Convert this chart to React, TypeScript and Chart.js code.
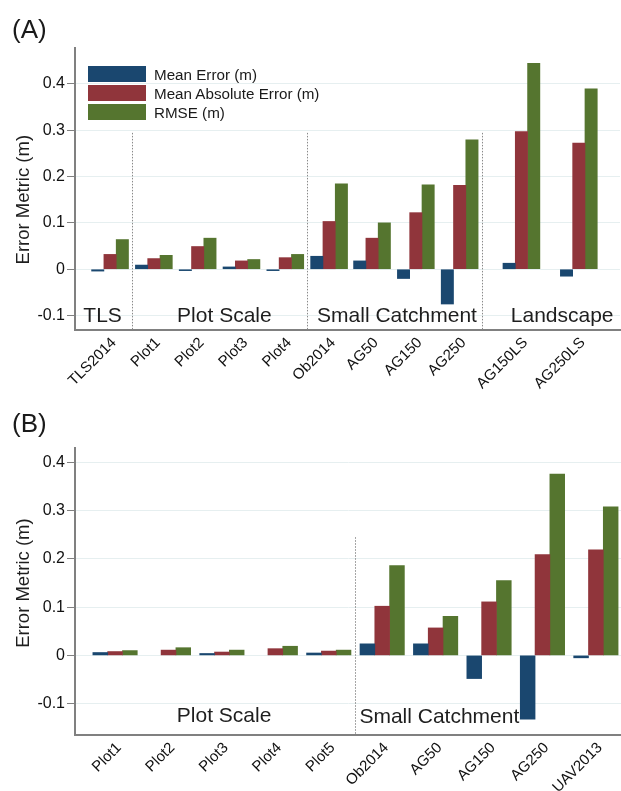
import React, { useEffect, useRef } from 'react';
import { Chart, registerables } from 'chart.js';

Chart.register(...registerables);

const FONT = '"Liberation Sans", Arial, Helvetica, sans-serif';

// ---------- data ----------
const seriesNames = ['Mean Error (m)', 'Mean Absolute Error (m)', 'RMSE (m)'];
const seriesColors = ['#1a476f', '#90353b', '#55752f'];

const labelsA = ['TLS2014', 'Plot1', 'Plot2', 'Plot3', 'Plot4', 'Ob2014', 'AG50', 'AG150', 'AG250', 'AG150LS', 'AG250LS'];
const meanErrorA = [-0.004, 0.009, -0.003, 0.005, -0.003, 0.028, 0.018, -0.02, -0.075, 0.013, -0.015];
const meanAbsErrorA = [0.032, 0.023, 0.049, 0.018, 0.025, 0.103, 0.067, 0.122, 0.181, 0.297, 0.272];
const rmseA = [0.064, 0.03, 0.067, 0.021, 0.032, 0.184, 0.1, 0.182, 0.279, 0.444, 0.389];
const groupNamesA = ['TLS', 'Plot Scale', 'Small Catchment', 'Landscape'];

const labelsB = ['Plot1', 'Plot2', 'Plot3', 'Plot4', 'Plot5', 'Ob2014', 'AG50', 'AG150', 'AG250', 'UAV2013'];
const meanErrorB: (number | null)[] = [0.006, null, 0.004, null, 0.005, 0.024, 0.024, -0.048, -0.132, -0.005];
const meanAbsErrorB = [0.008, 0.011, 0.007, 0.014, 0.009, 0.102, 0.057, 0.111, 0.209, 0.219];
const rmseB = [0.01, 0.016, 0.011, 0.019, 0.011, 0.186, 0.081, 0.155, 0.376, 0.308];
const groupNamesB = ['Plot Scale', 'Small Catchment'];

const yTickValues = [-0.1, 0, 0.1, 0.2, 0.3, 0.4];
const yTickLabels = ['-0.1', '0', '0.1', '0.2', '0.3', '0.4'];
const yTitle = 'Error Metric (m)';

// ---------- layout (category slots on the x axis, in axis units) ----------
const slotsA = [0.8, 1.8, 2.8, 3.8, 4.8, 5.8, 6.78, 7.78, 8.78, 10.19, 11.5];
const slotsB = [0.75, 1.75, 2.75, 3.75, 4.75, 5.75, 6.75, 7.75, 8.75, 9.75];

type Panel = {
  labels: string[];
  series: (number | null)[][];
  slots: number[];
  xMax: number;
  yMin: number;
  yMax: number;
  barThickness: number;
  separators: number[];
  sepTop: number;
  groups: { text: string; x: number; y: number }[];
  top: number;
  height: number;
  padTop: number;
  padRight: number;
  xAxisH: number;
};

const panelA: Panel = {
  labels: labelsA,
  series: [meanErrorA, meanAbsErrorA, rmseA],
  slots: slotsA,
  xMax: 12.44,
  yMin: -0.131,
  yMax: 0.477,
  barThickness: 12.3,
  separators: [1.3, 5.3, 9.29],
  sepTop: 0.294,
  groups: [
    { text: groupNamesA[0], x: 0.63, y: -0.102 },
    { text: groupNamesA[1], x: 3.41, y: -0.102 },
    { text: groupNamesA[2], x: 7.35, y: -0.102 },
    { text: groupNamesA[3], x: 11.12, y: -0.102 },
  ],
  top: 0,
  height: 400,
  padTop: 48,
  padRight: 1,
  xAxisH: 70,
};

const panelB: Panel = {
  labels: labelsB,
  series: [meanErrorB, meanAbsErrorB, rmseB],
  slots: slotsB,
  xMax: 10.22,
  yMin: -0.165,
  yMax: 0.43,
  barThickness: 14.8,
  separators: [5.25],
  sepTop: 0.245,
  groups: [
    { text: groupNamesB[0], x: 2.79, y: -0.126 },
    { text: groupNamesB[1], x: 6.82, y: -0.129 },
  ],
  top: 400,
  height: 391,
  padTop: 48,
  padRight: 0,
  xAxisH: 56,
};

const makeOverlay = (cfg: Panel) => ({
  id: 'overlay',
  beforeDatasetsDraw(chart: any) {
    const { ctx, chartArea } = chart;
    const x = chart.scales.x;
    const y = chart.scales.y;
    ctx.save();
    // group separators
    ctx.strokeStyle = '#8a8a8a';
    ctx.lineWidth = 1;
    ctx.setLineDash([1.5, 1.5]);
    cfg.separators.forEach((s) => {
      const px = Math.round(x.getPixelForValue(s)) + 0.5;
      ctx.beginPath();
      ctx.moveTo(px, y.getPixelForValue(cfg.sepTop));
      ctx.lineTo(px, chartArea.bottom);
      ctx.stroke();
    });
    ctx.setLineDash([]);
    // group labels
    ctx.fillStyle = '#1e1e1e';
    ctx.font = `21px ${FONT}`;
    ctx.textAlign = 'center';
    ctx.textBaseline = 'middle';
    cfg.groups.forEach((g) => {
      ctx.fillText(g.text, x.getPixelForValue(g.x), y.getPixelForValue(g.y));
    });
    ctx.restore();
  },
  afterDraw(chart: any) {
    const { ctx } = chart;
    const y = chart.scales.y;
    ctx.save();
    ctx.fillStyle = '#1e1e1e';
    ctx.font = `18.5px ${FONT}`;
    ctx.textAlign = 'center';
    ctx.textBaseline = 'middle';
    ctx.translate(24, y.getPixelForValue(0.15));
    ctx.rotate(-Math.PI / 2);
    ctx.fillText(yTitle, 0, 0);
    ctx.restore();
  },
});

function PanelChart({ cfg }: { cfg: Panel }) {
  const ref = useRef<HTMLCanvasElement>(null);
  useEffect(() => {
    const chart = new Chart(ref.current as HTMLCanvasElement, {
      type: 'bar',
      data: {
        datasets: cfg.series.map((vals, si) => ({
          label: seriesNames[si],
          data: vals.map((v, i) => ({ x: cfg.slots[i], y: v })),
          backgroundColor: seriesColors[si],
          borderWidth: 0,
          barThickness: cfg.barThickness,
          grouped: true,
        })),
      },
      options: {
        animation: false,
        responsive: false,
        devicePixelRatio: 1,
        layout: { padding: { top: cfg.padTop, right: cfg.padRight, left: 0, bottom: 0 } },
        plugins: { legend: { display: false }, tooltip: { enabled: false }, title: { display: false } },
        scales: {
          x: {
            type: 'linear',
            min: 0,
            max: cfg.xMax,
            offset: false,
            grid: { display: false, drawTicks: false, offset: false },
            border: { display: true, color: '#808080', width: 2 },
            afterBuildTicks: (s: any) => {
              s.ticks = cfg.slots.map((v) => ({ value: v }));
            },
            afterFit: (s: any) => {
              s.height = cfg.xAxisH;
            },
            ticks: {
              autoSkip: false,
              minRotation: 45,
              maxRotation: 45,
              padding: 4,
              labelOffset: 4,
              color: '#111111',
              font: { family: FONT, size: 15 },
              callback: (_v: any, i: number) => cfg.labels[i],
            },
          },
          y: {
            type: 'linear',
            min: cfg.yMin,
            max: cfg.yMax,
            afterBuildTicks: (s: any) => {
              s.ticks = yTickValues.map((v) => ({ value: v }));
            },
            afterFit: (s: any) => {
              s.width = 75;
            },
            grid: { color: '#e6eff0', lineWidth: 1, tickColor: '#808080', tickLength: 8, drawTicks: true },
            border: { display: true, color: '#808080', width: 2 },
            ticks: {
              padding: 2,
              color: '#111111',
              font: { family: FONT, size: 16 },
              callback: (_v: any, i: number) => yTickLabels[i],
            },
          },
        },
      },
      plugins: [makeOverlay(cfg)],
    } as any);
    return () => chart.destroy();
  }, []);
  return (
    <canvas
      ref={ref}
      width={621}
      height={cfg.height}
      style={{ position: 'absolute', left: 0, top: cfg.top, width: 621, height: cfg.height, display: 'block' }}
    />
  );
}

const textStyle: React.CSSProperties = {
  position: 'absolute',
  fontFamily: FONT,
  color: '#1a1a1a',
  whiteSpace: 'nowrap',
  lineHeight: 1,
};

export default function App() {
  return (
    <div style={{ position: 'absolute', left: 0, top: 0, width: 621, height: 791, background: '#ffffff', overflow: 'hidden' }}>
      <PanelChart cfg={panelA} />
      <PanelChart cfg={panelB} />
      <div style={{ ...textStyle, left: 12, top: 16, fontSize: 26 }}>(A)</div>
      <div style={{ ...textStyle, left: 12, top: 410, fontSize: 26 }}>(B)</div>
      {seriesNames.map((name, i) => (
        <React.Fragment key={name}>
          <div
            style={{
              position: 'absolute',
              left: 88,
              top: 66 + 19 * i,
              width: 58,
              height: 16,
              background: seriesColors[i],
            }}
          />
          <div style={{ ...textStyle, left: 154, top: 66 + 19 * i + 1, fontSize: 15.2 }}>{name}</div>
        </React.Fragment>
      ))}
    </div>
  );
}
